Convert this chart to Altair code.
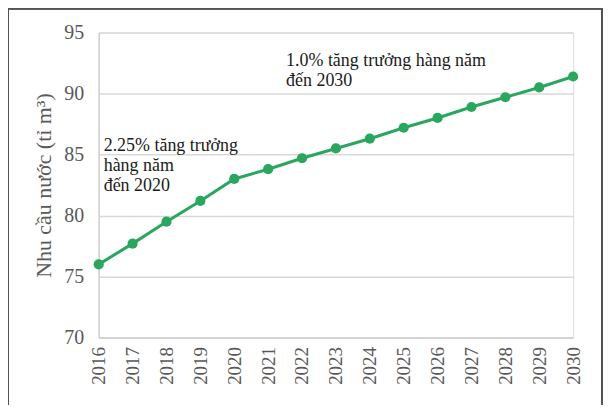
import altair as alt
import pandas as pd

years = [str(y) for y in range(2016, 2031)]
demand = [76.0, 77.7, 79.5, 81.2, 83.0, 83.8, 84.7, 85.5, 86.3, 87.2, 88.0, 88.9, 89.7, 90.5, 91.4]

note_lines_a = ["2.25% tăng trưởng", "hàng năm", "đến 2020"]
note_lines_b = ["1.0% tăng trưởng hàng năm", "đến 2030"]

df = pd.DataFrame({"year": years, "demand": demand})

FONT = "Liberation Serif"
GREEN = "#2aa65f"

xscale = alt.Scale(type="point", padding=0, domain=years)
yscale = alt.Scale(domain=[70, 95], nice=False, zero=False)

base = alt.Chart(df).encode(
    x=alt.X("year:O", scale=xscale,
            axis=alt.Axis(title=None, labelAngle=270, labelOverlap=False,
                          labelFont=FONT, labelFontSize=19, labelColor="#595959",
                          labelPadding=9, ticks=False, grid=False,
                          domainColor="#d0d0d0", domainWidth=1.5)),
    y=alt.Y("demand:Q", scale=yscale,
            axis=alt.Axis(title="Nhu cầu nước (tỉ m³)", values=[70, 75, 80, 85, 90, 95],
                          labelFont=FONT, labelFontSize=20, labelColor="#595959",
                          labelPadding=15, ticks=False, grid=True, gridColor="#d9d9d9",
                          gridWidth=1.5, domainColor="#d0d0d0", domainWidth=1.5,
                          titleFont=FONT, titleFontSize=22, titleFontWeight="normal",
                          titleColor="#595959", titlePadding=8)),
)

line = base.mark_line(color=GREEN, strokeWidth=3)
pts = base.mark_point(color=GREEN, filled=True, size=105, opacity=1)

def note(lines, year, top_value, dx, lh):
    d = pd.DataFrame({"year": [year] * len(lines), "v": [top_value] * len(lines), "t": lines})
    layers = []
    for i in range(len(lines)):
        layers.append(
            alt.Chart(d.iloc[[i]]).mark_text(
                align="left", baseline="middle", font=FONT, fontSize=18,
                color="#1a1a1a", dx=dx, dy=lh * i
            ).encode(x=alt.X("year:O", scale=xscale), y=alt.Y("v:Q", scale=yscale), text="t:N")
        )
    return layers

frame = alt.Chart(df).mark_rect(fill=None, stroke="#555555", strokeWidth=1).encode(
    x=alt.value(-91), x2=alt.value(505), y=alt.value(-24), y2=alt.value(400)
)

layers = [frame, line, pts] + note(note_lines_a, "2016", 85.7, 5, 20) + note(note_lines_b, "2021", 92.7, 18, 20)

chart = alt.layer(*layers).properties(
    width=476, height=306,
    padding={"left": 91, "top": 24, "right": 31, "bottom": 67},
    autosize=alt.AutoSizeParams(type="none"),
).configure_view(stroke=None).configure(background="white")

chart.save("out.html", embed_options={"renderer": "svg", "actions": False})
